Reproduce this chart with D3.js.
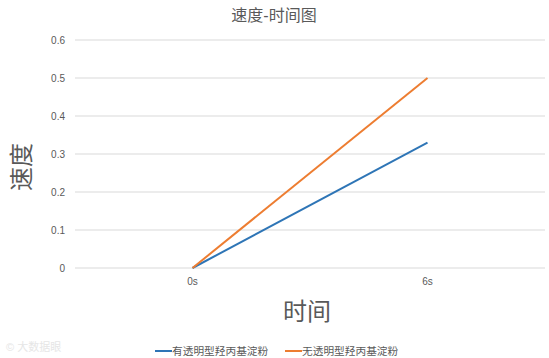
<!DOCTYPE html>
<html><head><meta charset="utf-8">
<script src="https://cdn.jsdelivr.net/npm/d3@7"></script>
<style>
body{margin:0;background:#fff;}
text{font-family:"Liberation Sans","Noto Sans CJK SC",sans-serif;}
</style></head>
<body><svg id="c" width="549" height="358"></svg>
<script>
const categories = ["0s", "6s"];
const seriesNames = ["有透明型羟丙基淀粉", "无透明型羟丙基淀粉"];
const seriesWith = [0, 0.33];
const seriesWithout = [0, 0.5];
const yTicks = [0, 0.1, 0.2, 0.3, 0.4, 0.5, 0.6];
const colors = ["#2E75B6", "#ED7D31"];
const series = [seriesWith, seriesWithout];

const svg = d3.select("#c");
const m = {l:75, r:545, t:40, b:268};
const x = d3.scaleBand().domain(categories).range([m.l, m.r]);
const y = d3.scaleLinear().domain([0, 0.6]).range([m.b, m.t]);

// gridlines
svg.append("g").selectAll("line").data(yTicks).join("line")
  .attr("x1", m.l).attr("x2", m.r)
  .attr("y1", d => y(d)).attr("y2", d => y(d))
  .attr("stroke", "#d9d9d9").attr("stroke-width", 1);

// y axis labels
const yAxis = d3.axisLeft(y).tickValues(yTicks).tickSize(0).tickPadding(10)
  .tickFormat(d => d === 0 ? "0" : d3.format(".1f")(d));
const ya = svg.append("g").attr("transform", `translate(${m.l},0)`).call(yAxis);
ya.select(".domain").remove();
ya.selectAll("text").attr("fill", "#595959").style("font-size", "10px");

// x axis labels
const xAxis = d3.axisBottom(x).tickSize(0).tickPadding(10);
const xa = svg.append("g").attr("transform", `translate(0,${m.b})`).call(xAxis);
xa.select(".domain").remove();
xa.selectAll("text").attr("fill", "#595959").style("font-size", "10px");

// lines
const line = d3.line().x((d, i) => x(categories[i]) + x.bandwidth() / 2).y(d => y(d));
series.forEach((s, i) => {
  svg.append("path").datum(s).attr("d", line)
    .attr("fill", "none").attr("stroke", colors[i]).attr("stroke-width", 2);
});

// title
svg.append("text").attr("x", 274).attr("y", 21).attr("text-anchor", "middle")
  .attr("fill", "#595959").style("font-size", "16px").text("速度-时间图");

// axis titles
svg.append("text").attr("x", 307).attr("y", 320).attr("text-anchor", "middle")
  .attr("fill", "#595959").style("font-size", "24px").text("时间");
svg.append("text").attr("transform", "translate(30,167) rotate(-90)").attr("text-anchor", "middle")
  .attr("fill", "#595959").style("font-size", "24px").text("速度");

// legend
const lg = [{x:155, tx:172}, {x:285, tx:302}];
seriesNames.forEach((n, i) => {
  svg.append("line").attr("x1", lg[i].x).attr("x2", lg[i].x + 17)
    .attr("y1", 351).attr("y2", 351).attr("stroke", colors[i]).attr("stroke-width", 2);
  svg.append("text").attr("x", lg[i].tx).attr("y", 355).attr("fill", "#595959")
    .style("font-size", "10.7px").text(n);
});

// watermark
svg.append("text").attr("x", 6).attr("y", 351).attr("fill", "#e6e6e6")
  .style("font-size", "11px").text("© 大数据眼");
</script>
</body></html>
